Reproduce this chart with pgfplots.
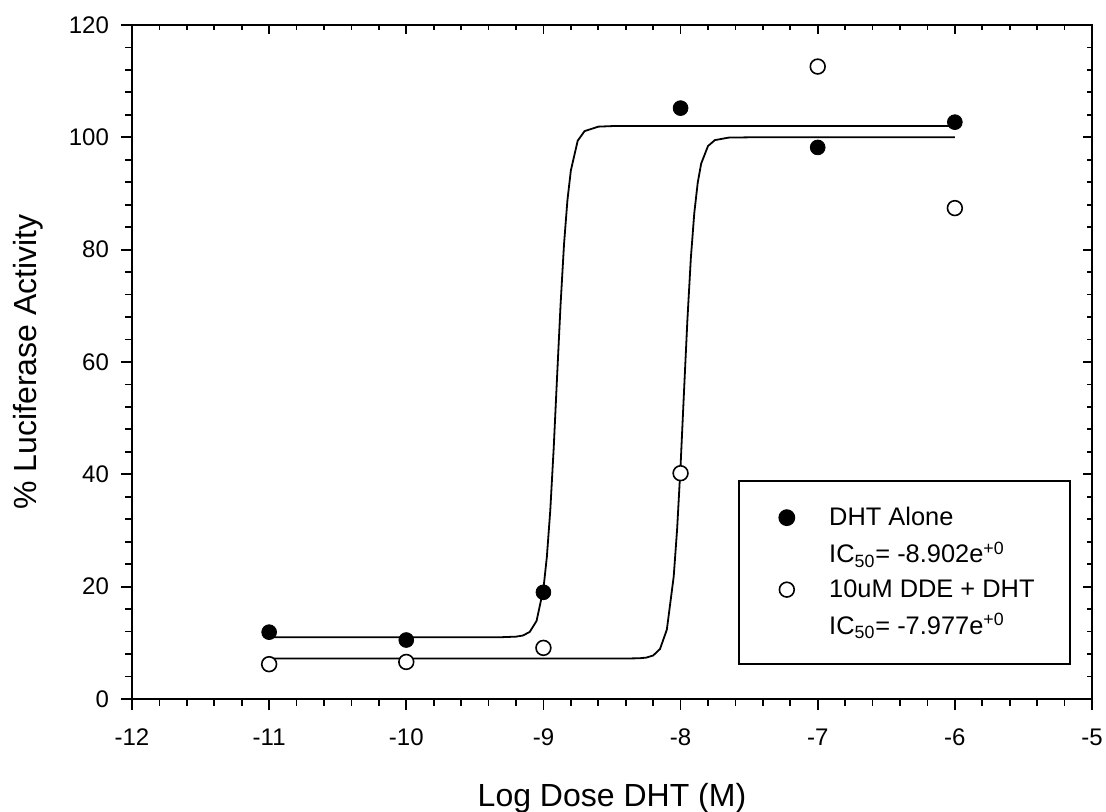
\documentclass[border=0pt]{standalone}
\usepackage{fontspec}
\setmainfont{Liberation Sans}
\usepackage{pgfplots}
\pgfplotsset{compat=1.18}
\begin{document}
\begin{tikzpicture}
\path[use as bounding box] (-66pt,-56.5pt) rectangle (487pt,349.5pt);
\pgfplotsset{
  common/.style={
    at={(0,0)}, anchor=south west,
    scale only axis, width=480pt, height=337pt,
    xmin=-12, xmax=-5, ymin=0, ymax=120,
    xtick={-12,-11,...,-5}, ytick={0,20,...,120},
    minor x tick num=4, minor y tick num=4,
    axis line style={line width=1pt, black},
    every tick/.style={line width=0.9pt, black},
    /pgf/number format/assume math mode=true,
    tick label style={font=\fontsize{12}{14}\selectfont},
  }
}
\begin{axis}[common,
  xtick pos=right, ytick pos=right, tick align=inside,
  major tick length=4.5pt, minor tick length=2.5pt,
  xticklabels={}, yticklabels={}]
\end{axis}
\begin{axis}[common,
  xtick pos=left, ytick pos=left, tick align=outside,
  major tick length=5.5pt, minor tick length=3.5pt,
  x tick label style={yshift=-6pt},
  y tick label style={xshift=-2.5pt},
  xlabel={Log Dose DHT (M)},
  ylabel={\% Luciferase Activity},
  label style={font=\fontsize{16}{19}\selectfont},
  xlabel style={at={(axis description cs:0.5,0)}, yshift=-53.5pt, anchor=base},
  ylabel style={at={(axis description cs:-0.1083,0.5)}, anchor=center},
  legend cell align=left,
  legend style={at={(0.631,0.325)}, anchor=north west, draw=black, line width=1pt,
    font=\fontsize{12.7}{15}\selectfont, inner xsep=15.5pt, inner ysep=11pt,
    row sep=2.7pt, column sep=15.5pt},
]
% fitted curve, DHT alone
\addplot[black, line width=0.9pt, forget plot] coordinates {
(-11,11.0) (-9.3,11.01) (-9.2,11.1) (-9.15,11.3) (-9.1,11.94) (-9.05,13.9)
(-9.0,19.6) (-8.975,25.3) (-8.95,33.6) (-8.925,44.7) (-8.9,57.6) (-8.875,70.2)
(-8.85,80.9) (-8.825,88.8) (-8.8,94.1) (-8.75,99.4) (-8.7,101.1) (-8.6,101.9)
(-8.5,102.0) (-6,102.0)};
% fitted curve, 10uM DDE + DHT
\addplot[black, line width=0.9pt, forget plot] coordinates {
(-11,7.2) (-8.4,7.21) (-8.3,7.25) (-8.25,7.37) (-8.2,7.74) (-8.15,8.9)
(-8.1,12.36) (-8.05,21.8) (-8.025,30.3) (-8.0,41.5) (-7.975,54.7) (-7.95,67.6)
(-7.925,78.5) (-7.9,86.5) (-7.875,91.9) (-7.85,95.3) (-7.8,98.45) (-7.75,99.5)
(-7.65,99.95) (-7.5,100.0) (-6,100.0)};
\addplot[only marks, mark=*, mark size=3.7pt, mark options={fill=black, draw=black}] coordinates {
(-11,11.9) (-10,10.5) (-9,19.0) (-8,105.2) (-7,98.2) (-6,102.7)};
\addlegendentry{DHT Alone}
\addlegendimage{empty legend}
\addlegendentry{IC\textsubscript{50}= -8.902e\textsuperscript{+0}}
\addplot[only marks, mark=*, mark size=3.7pt, mark options={fill=white, draw=black, line width=0.8pt}] coordinates {
(-11,6.2) (-10,6.6) (-9,9.1) (-8,40.2) (-7,112.6) (-6,87.4)};
\addlegendentry{10uM DDE + DHT}
\addlegendimage{empty legend}
\addlegendentry{IC\textsubscript{50}= -7.977e\textsuperscript{+0}\rule[-4.5pt]{0pt}{4.5pt}}
\end{axis}
\end{tikzpicture}
\end{document}
